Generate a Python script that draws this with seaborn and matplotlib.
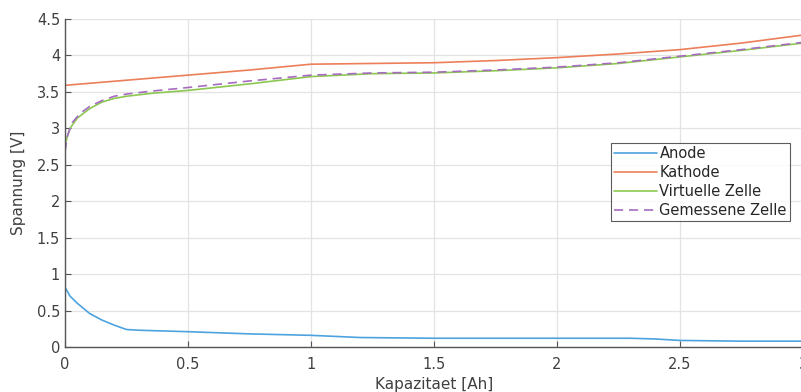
import numpy as np
import pandas as pd
import matplotlib
matplotlib.use("Agg")
import matplotlib.pyplot as plt
import seaborn as sns

# values
anode_x = [0.0, 0.02, 0.05, 0.1, 0.15, 0.2, 0.25, 0.3, 0.5, 0.75, 1.0, 1.2, 1.5, 2.0, 2.3, 2.4, 2.5, 2.75, 3.0]
anode_y = [0.82, 0.7, 0.6, 0.46, 0.37, 0.3, 0.24, 0.23, 0.21, 0.18, 0.16, 0.13, 0.12, 0.12, 0.12, 0.11, 0.09, 0.08, 0.08]

kath_x = [0.0, 0.25, 0.5, 0.75, 1.0, 1.25, 1.5, 1.75, 2.0, 2.25, 2.5, 2.75, 3.0]
kath_y = [3.59, 3.66, 3.73, 3.8, 3.88, 3.89, 3.9, 3.93, 3.97, 4.02, 4.08, 4.17, 4.28]

virt_x = [0.0, 0.02, 0.05, 0.1, 0.15, 0.2, 0.25, 0.35, 0.5, 0.75, 1.0, 1.25, 1.5, 1.75, 2.0, 2.25, 2.5, 2.75, 3.0]
virt_y = [2.78, 3.0, 3.14, 3.27, 3.36, 3.41, 3.44, 3.48, 3.52, 3.61, 3.71, 3.75, 3.76, 3.79, 3.83, 3.89, 3.98, 4.07, 4.17]

meas_x = [0.0, 0.01, 0.03, 0.06, 0.1, 0.15, 0.2, 0.25, 0.35, 0.5, 0.75, 1.0, 1.25, 1.5, 1.75, 2.0, 2.25, 2.5, 2.75, 3.0]
meas_y = [2.68, 2.9, 3.08, 3.2, 3.3, 3.38, 3.44, 3.47, 3.51, 3.56, 3.65, 3.73, 3.76, 3.77, 3.8, 3.84, 3.9, 3.99, 4.08, 4.18]

labels = ["Anode", "Kathode", "Virtuelle Zelle", "Gemessene Zelle"]
colors = ["#4da3df", "#ec7f5a", "#8cc850", "#a66cc0"]

sns.set_style("white")
plt.rcParams["font.family"] = ["DejaVu Sans"]

fig = plt.figure(figsize=(8.01, 3.92), dpi=100)
ax = fig.add_axes([65 / 801, 45 / 392, 738 / 801, 328 / 392])

series = [(anode_x, anode_y), (kath_x, kath_y), (virt_x, virt_y), (meas_x, meas_y)]
for (xs, ys), lab, col in zip(series, labels, colors):
    df = pd.DataFrame({"x": xs, "y": ys})
    sns.lineplot(
        data=df, x="x", y="y", ax=ax, color=col, label=lab, lw=1.2,
        linestyle=(0, (5.5, 3.5)) if lab == "Gemessene Zelle" else "-",
    )

ax.set_xlim(0, 3)
ax.set_ylim(0, 4.5)
ax.set_xticks(np.arange(0, 3.01, 0.5))
ax.set_yticks(np.arange(0, 4.51, 0.5))
ax.set_xticklabels(["0", "0.5", "1", "1.5", "2", "2.5", "3"])
ax.set_yticklabels(["0", "0.5", "1", "1.5", "2", "2.5", "3", "3.5", "4", "4.5"])
ax.grid(True, color="#e3e3e3", lw=0.9)
ax.set_axisbelow(True)
for s in ["top", "right"]:
    ax.spines[s].set_visible(False)
for s in ["left", "bottom"]:
    ax.spines[s].set_color("#555555")
    ax.spines[s].set_linewidth(1.0)
ax.tick_params(direction="in", length=4, color="#555555", labelcolor="#404040",
               labelsize=10.5, left=True, bottom=True)
ax.tick_params(axis="x", pad=7)
ax.set_xlabel("Kapazitaet [Ah]", fontsize=11, color="#404040", labelpad=4)
ax.set_ylabel("Spannung [V]", fontsize=11, color="#404040", labelpad=8)

leg = ax.legend(loc="upper right", bbox_to_anchor=(0.982, 0.622), fontsize=10.5,
                frameon=True, fancybox=False, edgecolor="#333333",
                handlelength=2.9, handletextpad=0.2, labelspacing=0.28,
                borderpad=0.2, borderaxespad=0)
leg.get_frame().set_linewidth(0.8)
for t in leg.get_texts():
    t.set_color("#262626")

fig.savefig("out.png", dpi=100)
